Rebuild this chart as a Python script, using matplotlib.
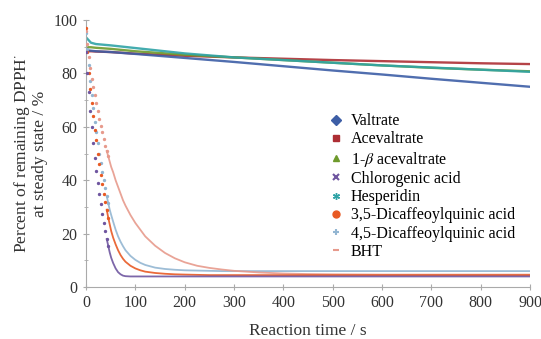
import numpy as np
import matplotlib.pyplot as plt
from matplotlib.ticker import MultipleLocator

# Fast-decaying samples (s)
t_fast = [0, 3, 6, 9, 12, 15, 18, 21, 24, 27, 30, 33, 36, 39, 42, 45, 48, 51, 55, 60,
          65, 70, 75, 80, 90, 100, 110, 120, 140, 160, 180, 200, 225, 250, 275, 300,
          350, 400, 450, 500, 600, 700, 800, 900]

chlorogenic = [88, 80, 73, 66, 60, 54, 48.5, 43.5, 39, 35, 31, 27.5, 24, 21, 18, 15.5, 13, 11, 9, 7,
               5.6, 4.8, 4.3, 4.1, 4.0, 4.0, 4.0, 4.0, 4.0, 4.0, 4.0, 4.0, 4.0, 4.0, 4.0, 4.0,
               4.0, 4.0, 4.0, 4.0, 4.0, 4.0, 4.0, 4.0]
dicq35 = [97, 88, 80, 74, 69, 64, 59, 55, 50, 46, 42, 38.5, 35, 32, 29, 26, 23.5, 21, 18.5, 16,
          13.8, 12, 10.6, 9.5, 8, 7, 6.3, 5.8, 5.3, 5.0, 4.8, 4.7, 4.6, 4.5, 4.5, 4.5,
          4.5, 4.5, 4.5, 4.5, 4.5, 4.5, 4.5, 4.5]
dicq45 = [95, 89, 83, 77, 72, 67, 62, 58, 54, 50, 46.5, 43, 40, 37, 34, 31.5, 29, 27, 24.5, 21.5,
          19, 17, 15.3, 13.8, 11.7, 10.2, 9.1, 8.3, 7.3, 6.8, 6.5, 6.3, 6.2, 6.1, 6.0, 6.0,
          6.0, 6.0, 6.0, 6.0, 6.0, 6.0, 6.0, 6.0]
bht = [96, 91, 86, 82, 78, 75, 72, 69, 66, 63, 60.5, 58, 55.5, 53, 51, 49, 47, 45, 43, 40,
       37.5, 35, 32.5, 30.5, 27, 24, 21.5, 19, 15.5, 12.8, 10.8, 9.3, 8.0, 7.2, 6.6, 6.1,
       5.5, 5.1, 4.9, 4.8, 4.7, 4.7, 4.7, 4.7]

# Slowly decaying samples (s)
t_slow = [0, 5, 10, 20, 50, 100, 200, 300, 400, 500, 600, 700, 800, 900]
hesperidin = [93.5, 92.5, 91.5, 91.0, 90.5, 89.5, 87.5, 86.0, 85.0, 84.0, 83.0, 82.2, 81.4, 80.6]
valtrate = [89.0, 88.6, 88.5, 88.3, 88.0, 87.3, 85.8, 84.3, 82.7, 81.1, 79.6, 78.0, 76.5, 75.0]
acevaltrate = [88.0, 88.3, 88.3, 88.2, 88.0, 87.4, 86.6, 86.0, 85.5, 85.0, 84.6, 84.2, 83.8, 83.5]
beta_acevaltrate = [89.5, 89.8, 89.8, 89.6, 89.2, 88.3, 87.0, 86.0, 85.0, 84.0, 83.0, 82.1, 81.4, 80.8]

series = [
    ('Valtrate', t_slow, valtrate, '#3d5ea6', 'D'),
    ('Acevaltrate', t_slow, acevaltrate, '#ad2e34', 's'),
    (r'1-$\beta$ acevaltrate', t_slow, beta_acevaltrate, '#6e9a2c', '^'),
    ('Chlorogenic acid', t_fast, chlorogenic, '#6f56a0', 'x'),
    ('Hesperidin', t_slow, hesperidin, '#2fa3a6', (6, 2, 0)),
    ('3,5-Dicaffeoylquinic acid', t_fast, dicq35, '#e85a24', 'o'),
    ('4,5-Dicaffeoylquinic acid', t_fast, dicq45, '#93b6d2', '+'),
    ('BHT', t_fast, bht, '#e79a8c', '_'),
]

plt.rcParams['font.family'] = ['Liberation Serif', 'DejaVu Serif']
plt.rcParams['mathtext.fontset'] = 'stix'

fig = plt.figure(figsize=(5.41, 3.39), dpi=100)
ax = fig.add_axes([0.159, 0.153, 0.821, 0.788])

order = [1, 2, 0, 4, 6, 7, 5, 3]
for i in order:
    name, t, y, col, mk = series[i]
    t = np.array(t)
    y = np.array(y)
    if len(t) == len(t_slow):
        ax.plot(t, y, color=col, lw=1.7, alpha=0.9, zorder=2)
    else:
        # early readings show up as separate dots, later ones merge into a line
        late = t >= 42
        ax.plot(t[late], y[late], color=col, lw=1.3, alpha=0.9, zorder=2)
        early = t <= 45
        ax.plot(t[early], y[early], ls='none', marker='.', ms=2.8, color=col, zorder=3)

# legend entries with marker only
handles = []
for name, t, y, col, mk in series:
    h, = ax.plot([], [], ls='none', marker=mk, color=col, ms=5,
                 mew=1.5 if mk in ('+', 'x', '_') else 1)
    handles.append(h)
ax.legend(handles, [s[0] for s in series], loc='upper left', bbox_to_anchor=(0.535, 0.675),
          frameon=False, fontsize=11.5, handlelength=0.8, handletextpad=0.5,
          labelspacing=0.14, borderaxespad=0)

ax.set_xlim(0, 900)
ax.set_ylim(0, 100)
ax.xaxis.set_major_locator(MultipleLocator(100))
ax.yaxis.set_major_locator(MultipleLocator(20))
ax.yaxis.set_minor_locator(MultipleLocator(10))
for s in ('top', 'right'):
    ax.spines[s].set_visible(False)
for s in ('left', 'bottom'):
    ax.spines[s].set_color('#aaaaaa')
    ax.spines[s].set_linewidth(0.8)
ax.tick_params(which='both', direction='inout', color='#aaaaaa', labelsize=11.5,
               labelcolor='#333333')
ax.tick_params(which='major', length=5)
ax.tick_params(which='minor', length=3)

ax.set_xlabel('Reaction time / s', fontsize=12.5, color='#333333', labelpad=8)
ax.set_ylabel('Percent of remaining DPPH$^{\\cdot}$\nat steady state / %', fontsize=12.5,
              color='#333333', labelpad=4, linespacing=1.0)

fig.savefig('out.png', dpi=100)
